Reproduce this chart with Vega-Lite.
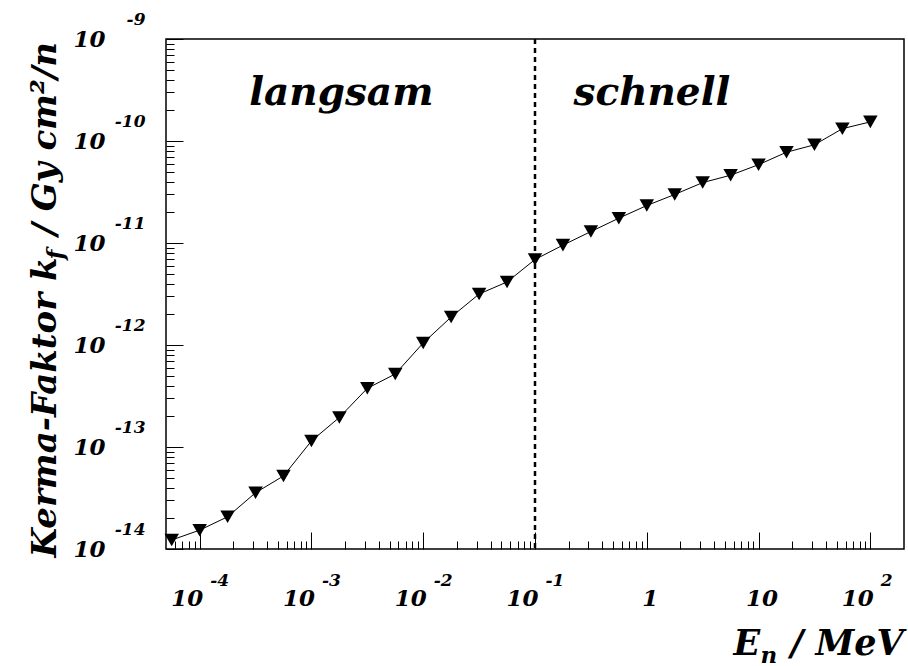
{
  "$schema": "https://vega.github.io/schema/vega-lite/v6.json",
  "width": 738,
  "height": 510,
  "autosize": "none",
  "padding": {"left": 166, "top": 39, "right": 4, "bottom": 117},
  "background": "white",
  "config": {
    "font": "'DejaVu Serif', serif",
    "view": {"stroke": "black", "strokeWidth": 1.5},
    "axis": {
      "labelFont": "'DejaVu Serif', serif",
      "labelFontStyle": "italic",
      "labelFontWeight": "bold",
      "labelColor": "black",
      "titleFont": "'DejaVu Serif', serif",
      "titleFontStyle": "italic",
      "titleFontWeight": "bold",
      "titleColor": "black",
      "tickColor": "black",
      "tickWidth": 1,
      "domain": false,
      "grid": false,
      "labelFlush": false,
      "labelOverlap": false,
      "labelBound": false
    }
  },
  "datasets": {
    "kerma": [
      {"E": 5.623e-5, "kf": 1.225e-14},
      {"E": 1e-4, "kf": 1.53e-14},
      {"E": 1.778e-4, "kf": 2.07e-14},
      {"E": 3.162e-4, "kf": 3.56e-14},
      {"E": 5.623e-4, "kf": 5.2e-14},
      {"E": 1e-3, "kf": 1.146e-13},
      {"E": 1.778e-3, "kf": 1.95e-13},
      {"E": 3.162e-3, "kf": 3.76e-13},
      {"E": 5.623e-3, "kf": 5.2e-13},
      {"E": 1e-2, "kf": 1.047e-12},
      {"E": 1.778e-2, "kf": 1.88e-12},
      {"E": 3.162e-2, "kf": 3.16e-12},
      {"E": 5.623e-2, "kf": 4.15e-12},
      {"E": 0.1, "kf": 6.89e-12},
      {"E": 0.1778, "kf": 9.53e-12},
      {"E": 0.3162, "kf": 1.295e-11},
      {"E": 0.5623, "kf": 1.75e-11},
      {"E": 1, "kf": 2.33e-11},
      {"E": 1.778, "kf": 2.99e-11},
      {"E": 3.162, "kf": 3.91e-11},
      {"E": 5.623, "kf": 4.62e-11},
      {"E": 10, "kf": 5.86e-11},
      {"E": 17.78, "kf": 7.76e-11},
      {"E": 31.62, "kf": 9.18e-11},
      {"E": 56.23, "kf": 1.32e-10},
      {"E": 100, "kf": 1.54e-10}
    ],
    "regions": [
      {"label": "langsam", "E": 0.00185, "kf": 2.25e-10},
      {"label": "schnell", "E": 1.11, "kf": 2.25e-10}
    ]
  },
  "resolve": {"axis": {"x": "independent", "y": "independent"}},
  "layer": [
    {
      "data": {"name": "kerma"},
      "mark": {"type": "line", "color": "black", "strokeWidth": 1},
      "encoding": {
        "x": {
          "field": "E", "type": "quantitative",
          "scale": {"type": "log", "domain": [5e-5, 200], "nice": false},
          "axis": {
            "orient": "bottom",
            "values": [1e-4, 1e-3, 1e-2, 0.1, 1, 10, 100],
            "labelExpr": "datum.value == 1 ? '1' : '10'",
            "offset": -17,
            "tickSize": 17,
            "labelFontSize": 23,
            "labelAlign": {"condition": {"test": "datum.value == 1 || datum.value == 10", "value": "center"}, "value": "right"},
            "labelBaseline": "alphabetic",
            "labelPadding": 56,
            "labelOffset": 3,
            "title": "E",
            "titleFontSize": 35,
            "titleX": 567,
            "titleY": 122,
            "titleAlign": "left",
            "titleBaseline": "alphabetic",
            "titleAngle": 0
          }
        },
        "y": {
          "field": "kf", "type": "quantitative",
          "scale": {"type": "log", "domain": [1e-14, 1e-9], "nice": false},
          "axis": {
            "orient": "left",
            "values": [1e-14, 1e-13, 1e-12, 1e-11, 1e-10, 1e-9],
            "labelExpr": "'10'",
            "offset": -17,
            "tickSize": 17,
            "labelFontSize": 23,
            "labelAlign": "right",
            "labelBaseline": "middle",
            "labelPadding": 61,
            "title": "Kerma-Faktor k",
            "titleFontSize": 34,
            "titleX": -128,
            "titleY": 518,
            "titleAlign": "left",
            "titleBaseline": "alphabetic",
            "titleAngle": -90
          }
        }
      }
    },
    {
      "data": {"name": "kerma"},
      "mark": {"type": "point", "shape": "triangle-down", "filled": true, "color": "black", "size": 210, "opacity": 1},
      "encoding": {
        "x": {
          "field": "E", "type": "quantitative",
          "scale": {"type": "log", "domain": [5e-5, 200], "nice": false},
          "axis": {
            "orient": "bottom",
            "values": [1e-4, 1e-3, 1e-2, 0.1, 100],
            "labelExpr": "'' + round(log(datum.value) / LN10)",
            "ticks": false,
            "labelFontSize": 17,
            "labelAlign": "left",
            "labelBaseline": "alphabetic",
            "labelPadding": 36,
            "labelOffset": 10,
            "title": "n",
            "titleFontSize": 23,
            "titleX": 594,
            "titleY": 113,
            "titleAlign": "left",
            "titleBaseline": "alphabetic",
            "titleAngle": 0
          }
        },
        "y": {
          "field": "kf", "type": "quantitative",
          "scale": {"type": "log", "domain": [1e-14, 1e-9], "nice": false},
          "axis": {
            "orient": "left",
            "values": [1e-14, 1e-13, 1e-12, 1e-11, 1e-10, 1e-9],
            "labelExpr": "'' + round(log(datum.value) / LN10)",
            "ticks": false,
            "labelFontSize": 17,
            "labelAlign": "right",
            "labelBaseline": "middle",
            "labelPadding": 21,
            "labelOffset": -20,
            "title": "f",
            "titleFontSize": 23,
            "titleX": -104,
            "titleY": 220,
            "titleAlign": "left",
            "titleBaseline": "alphabetic",
            "titleAngle": -90
          }
        }
      }
    },
    {
      "data": {"name": "regions"},
      "mark": {"type": "text", "font": "'DejaVu Serif', serif", "fontStyle": "italic", "fontWeight": "bold", "fontSize": 39, "align": "center", "baseline": "alphabetic", "color": "black"},
      "encoding": {
        "x": {
          "field": "E", "type": "quantitative",
          "scale": {"type": "log", "domain": [5e-5, 200], "nice": false},
          "axis": {
            "orient": "bottom",
            "values": [0.00006, 0.00007, 0.00008, 0.00009, 0.0002, 0.0003, 0.0004, 0.0005, 0.0006, 0.0007, 0.0008, 0.0009, 0.002, 0.003, 0.004, 0.005, 0.006, 0.007, 0.008, 0.009, 0.02, 0.03, 0.04, 0.05, 0.06, 0.07, 0.08, 0.09, 0.2, 0.3, 0.4, 0.5, 0.6, 0.7, 0.8, 0.9, 2, 3, 4, 5, 6, 7, 8, 9, 20, 30, 40, 50, 60, 70, 80, 90],
            "labels": false,
            "offset": -8,
            "tickSize": 8,
            "title": "/ MeV",
            "titleFontSize": 35,
            "titleX": 624,
            "titleY": 113,
            "titleAlign": "left",
            "titleBaseline": "alphabetic",
            "titleAngle": 0
          }
        },
        "y": {
          "field": "kf", "type": "quantitative",
          "scale": {"type": "log", "domain": [1e-14, 1e-9], "nice": false},
          "axis": {
            "orient": "left",
            "values": [2e-14, 3e-14, 4e-14, 5e-14, 6e-14, 7e-14, 8e-14, 9e-14, 2e-13, 3e-13, 4e-13, 5e-13, 6e-13, 7e-13, 8e-13, 9e-13, 2e-12, 3e-12, 4e-12, 5e-12, 6e-12, 7e-12, 8e-12, 9e-12, 2e-11, 3e-11, 4e-11, 5e-11, 6e-11, 7e-11, 8e-11, 9e-11, 2e-10, 3e-10, 4e-10, 5e-10, 6e-10, 7e-10, 8e-10, 9e-10],
            "labels": false,
            "offset": -8,
            "tickSize": 8,
            "title": "/ Gy cm²/n",
            "titleFontSize": 34,
            "titleX": -119,
            "titleY": 196,
            "titleAlign": "left",
            "titleBaseline": "alphabetic",
            "titleAngle": -90
          }
        },
        "text": {"field": "label", "type": "nominal"}
      }
    },
    {
      "data": {"values": [{}]},
      "mark": {"type": "rule", "color": "black", "strokeWidth": 2.5, "strokeDash": [5, 4]},
      "encoding": {
        "x": {"datum": 0.1, "type": "quantitative", "scale": {"type": "log", "domain": [5e-5, 200], "nice": false}, "axis": null}
      }
    }
  ]
}
